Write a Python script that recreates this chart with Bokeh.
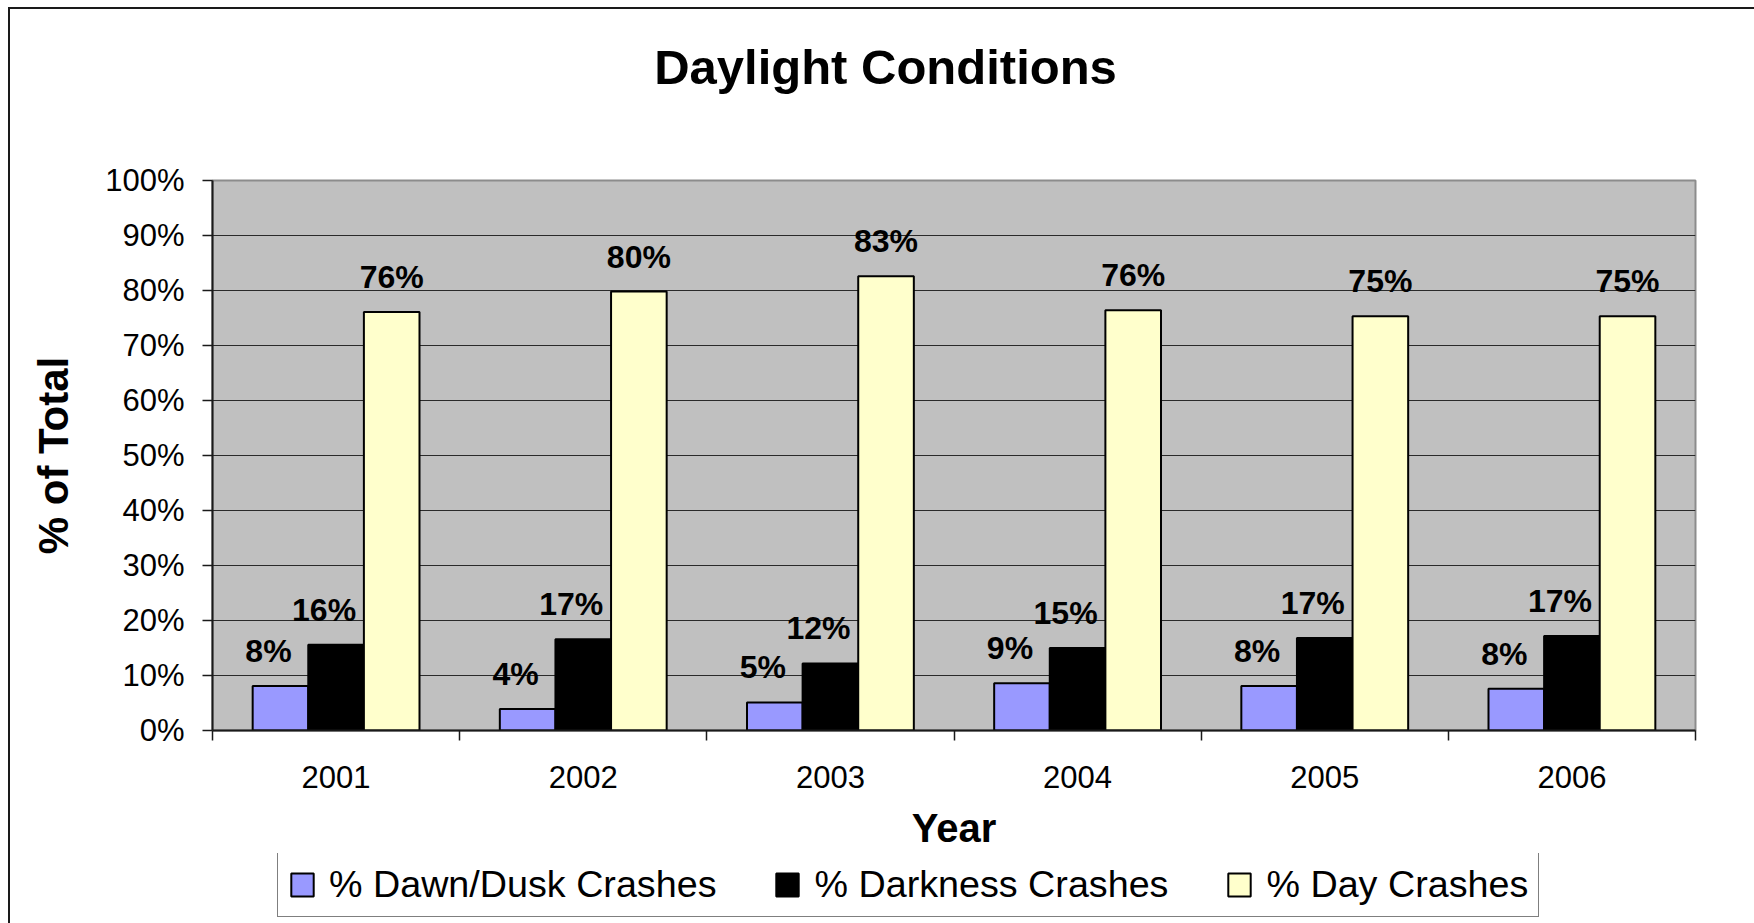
from bokeh.plotting import figure
from bokeh.layouts import column
from bokeh.models import (Range1d, FixedTicker, PrintfTickFormatter, ColumnDataSource,
                          Legend, LegendItem, Label)
from bokeh.transform import dodge
from bokeh.core.properties import value
from bokeh.embed import file_html
from bokeh.resources import INLINE

# ---- data ----
years = [2001, 2002, 2003, 2004, 2005, 2006]
dawn_dusk = [8.1, 3.9, 5.1, 8.6, 8.1, 7.6]
darkness = [15.6, 16.6, 12.2, 15.0, 16.8, 17.2]
day = [76.1, 79.8, 82.6, 76.4, 75.3, 75.3]
series_names = ["% Dawn/Dusk Crashes", "% Darkness Crashes", "% Day Crashes"]
y_ticks = [0, 10, 20, 30, 40, 50, 60, 70, 80, 90, 100]
chart_title = "Daylight Conditions"

FONT = "Liberation Sans"
colors = ["#9999FF", "#000000", "#FFFFCC"]
bar_w = 0.225

src = ColumnDataSource(dict(
    year=years,
    dawn=dawn_dusk, dark=darkness, day=day,
    dawn_lbl=[f"{round(v)}%" for v in dawn_dusk],
    dark_lbl=[f"{round(v)}%" for v in darkness],
    day_lbl=[f"{round(v)}%" for v in day],
))

# ---- title strip ----
tf = figure(width=1744, height=100, output_backend="svg", toolbar_location=None, title=None,
            x_range=Range1d(0, 1), y_range=Range1d(0, 1),
            x_axis_location=None, y_axis_location=None, min_border=0)
tf.outline_line_color = None
tf.background_fill_color = "white"
tf.border_fill_color = "white"
tf.grid.visible = False
tf.add_layout(Label(x=673, y=43, x_units="screen", y_units="screen", text=chart_title,
                    text_font=FONT, text_font_size="49px", text_font_style="bold",
                    text_color="black", text_align="center", text_baseline="alphabetic"))

# ---- main chart ----
p = figure(width=1744, height=744, output_backend="svg", toolbar_location=None, title=None,
           x_range=Range1d(years[0] - 0.5, years[-1] + 0.5), y_range=Range1d(0, 100),
           min_border_left=202, min_border_right=59, min_border_top=71, min_border_bottom=123)

p.background_fill_color = "#C0C0C0"
p.border_fill_color = "white"
p.outline_line_color = "#8c8c8c"
p.outline_line_width = 2

# grid
p.xgrid.grid_line_color = None
p.ygrid.grid_line_color = "#2a2a2a"
p.ygrid.grid_line_width = 1.2
p.ygrid.ticker = FixedTicker(ticks=y_ticks)

# y axis
ya = p.yaxis[0]
ya.ticker = FixedTicker(ticks=y_ticks)
ya.formatter = PrintfTickFormatter(format="%d%%")
ya.major_label_text_font = FONT
ya.major_label_text_font_size = "31px"
ya.major_label_text_color = "black"
ya.major_tick_out = 10
ya.major_tick_in = 0
ya.major_tick_line_color = "#1a1a1a"
ya.major_tick_line_width = 1.5
ya.minor_tick_line_color = None
ya.axis_line_color = "#1a1a1a"
ya.axis_line_width = 2
ya.major_label_standoff = 18
ya.axis_label = "% of Total"
ya.axis_label_text_font = FONT
ya.axis_label_text_font_size = "42px"
ya.axis_label_text_font_style = "bold"
ya.axis_label_text_color = "black"
ya.axis_label_standoff = 25

# x axis: labels at year centres, ticks at category boundaries
xa = p.xaxis[0]
xa.ticker = FixedTicker(ticks=years, minor_ticks=[y - 0.5 for y in years] + [years[-1] + 0.5])
xa.formatter = PrintfTickFormatter(format="%d")
xa.major_label_text_font = FONT
xa.major_label_text_font_size = "31px"
xa.major_label_text_color = "black"
xa.major_tick_line_color = None
xa.major_tick_out = 0
xa.major_tick_in = 0
xa.minor_tick_line_color = "#1a1a1a"
xa.minor_tick_line_width = 1.5
xa.minor_tick_out = 10
xa.minor_tick_in = 0
xa.axis_line_color = "#1a1a1a"
xa.axis_line_width = 2
xa.major_label_standoff = 25
xa.axis_label = "Year"
xa.axis_label_text_font = FONT
xa.axis_label_text_font_size = "40px"
xa.axis_label_text_font_style = "bold"
xa.axis_label_text_color = "black"
xa.axis_label_standoff = 15

# bars + value labels
fields = ["dawn", "dark", "day"]
offsets = [-bar_w, 0.0, bar_w]
lbl_xoff = [-12, -12, 0]
for f, off, c, xo in zip(fields, offsets, colors, lbl_xoff):
    p.vbar(x=dodge("year", off, range=p.x_range), top=f, width=bar_w, bottom=0,
           source=src, fill_color=c, line_color="black", line_width=2)
    p.text(x=dodge("year", off, range=p.x_range), y=f, text=f + "_lbl", source=src,
           text_font=value(FONT), text_font_size="32px", text_font_style="bold",
           text_color="black", text_align="center", text_baseline="alphabetic",
           x_offset=xo, y_offset=-35)

# ---- legend strip (own canvas so the box is not clipped by the plot frame) ----
lf = figure(width=1744, height=70, output_backend="svg", toolbar_location=None, title=None,
            x_range=Range1d(years[0] - 0.5, years[-1] + 0.5), y_range=Range1d(0, 100),
            x_axis_location=None, y_axis_location=None, min_border=0)
lf.outline_line_color = None
lf.background_fill_color = "white"
lf.border_fill_color = "white"
lf.grid.visible = False
leg_renderers = []
for f, c in zip(fields, colors):
    # legend-only renderers (hidden): the bars themselves are drawn in the main chart
    r = lf.vbar(x="year", top=f, width=bar_w, bottom=0, source=src,
                fill_color=c, line_color="black", line_width=2, visible=False)
    leg_renderers.append(r)

legend = Legend(items=[LegendItem(label=n, renderers=[r]) for n, r in zip(series_names, leg_renderers)],
                orientation="horizontal", location=(65, 6))
legend.padding = 10
legend.margin = 0
legend.spacing = 57
legend.glyph_width = 28
legend.glyph_height = 29
legend.label_standoff = 13
legend.label_text_font = FONT
legend.label_text_font_size = "37.7px"
legend.label_text_color = "black"
legend.border_line_color = "black"
legend.border_line_width = 1.5
legend.background_fill_color = "white"
legend.background_fill_alpha = 1
legend.inactive_fill_alpha = 0
lf.add_layout(legend)

root = column(tf, p, lf, spacing=0,
              styles={"margin-left": "8px", "margin-top": "7px",
                      "border-left": "2px solid #1a1a1a", "border-top": "2px solid #1a1a1a"})

open("out.html", "w").write(file_html(root, INLINE))
